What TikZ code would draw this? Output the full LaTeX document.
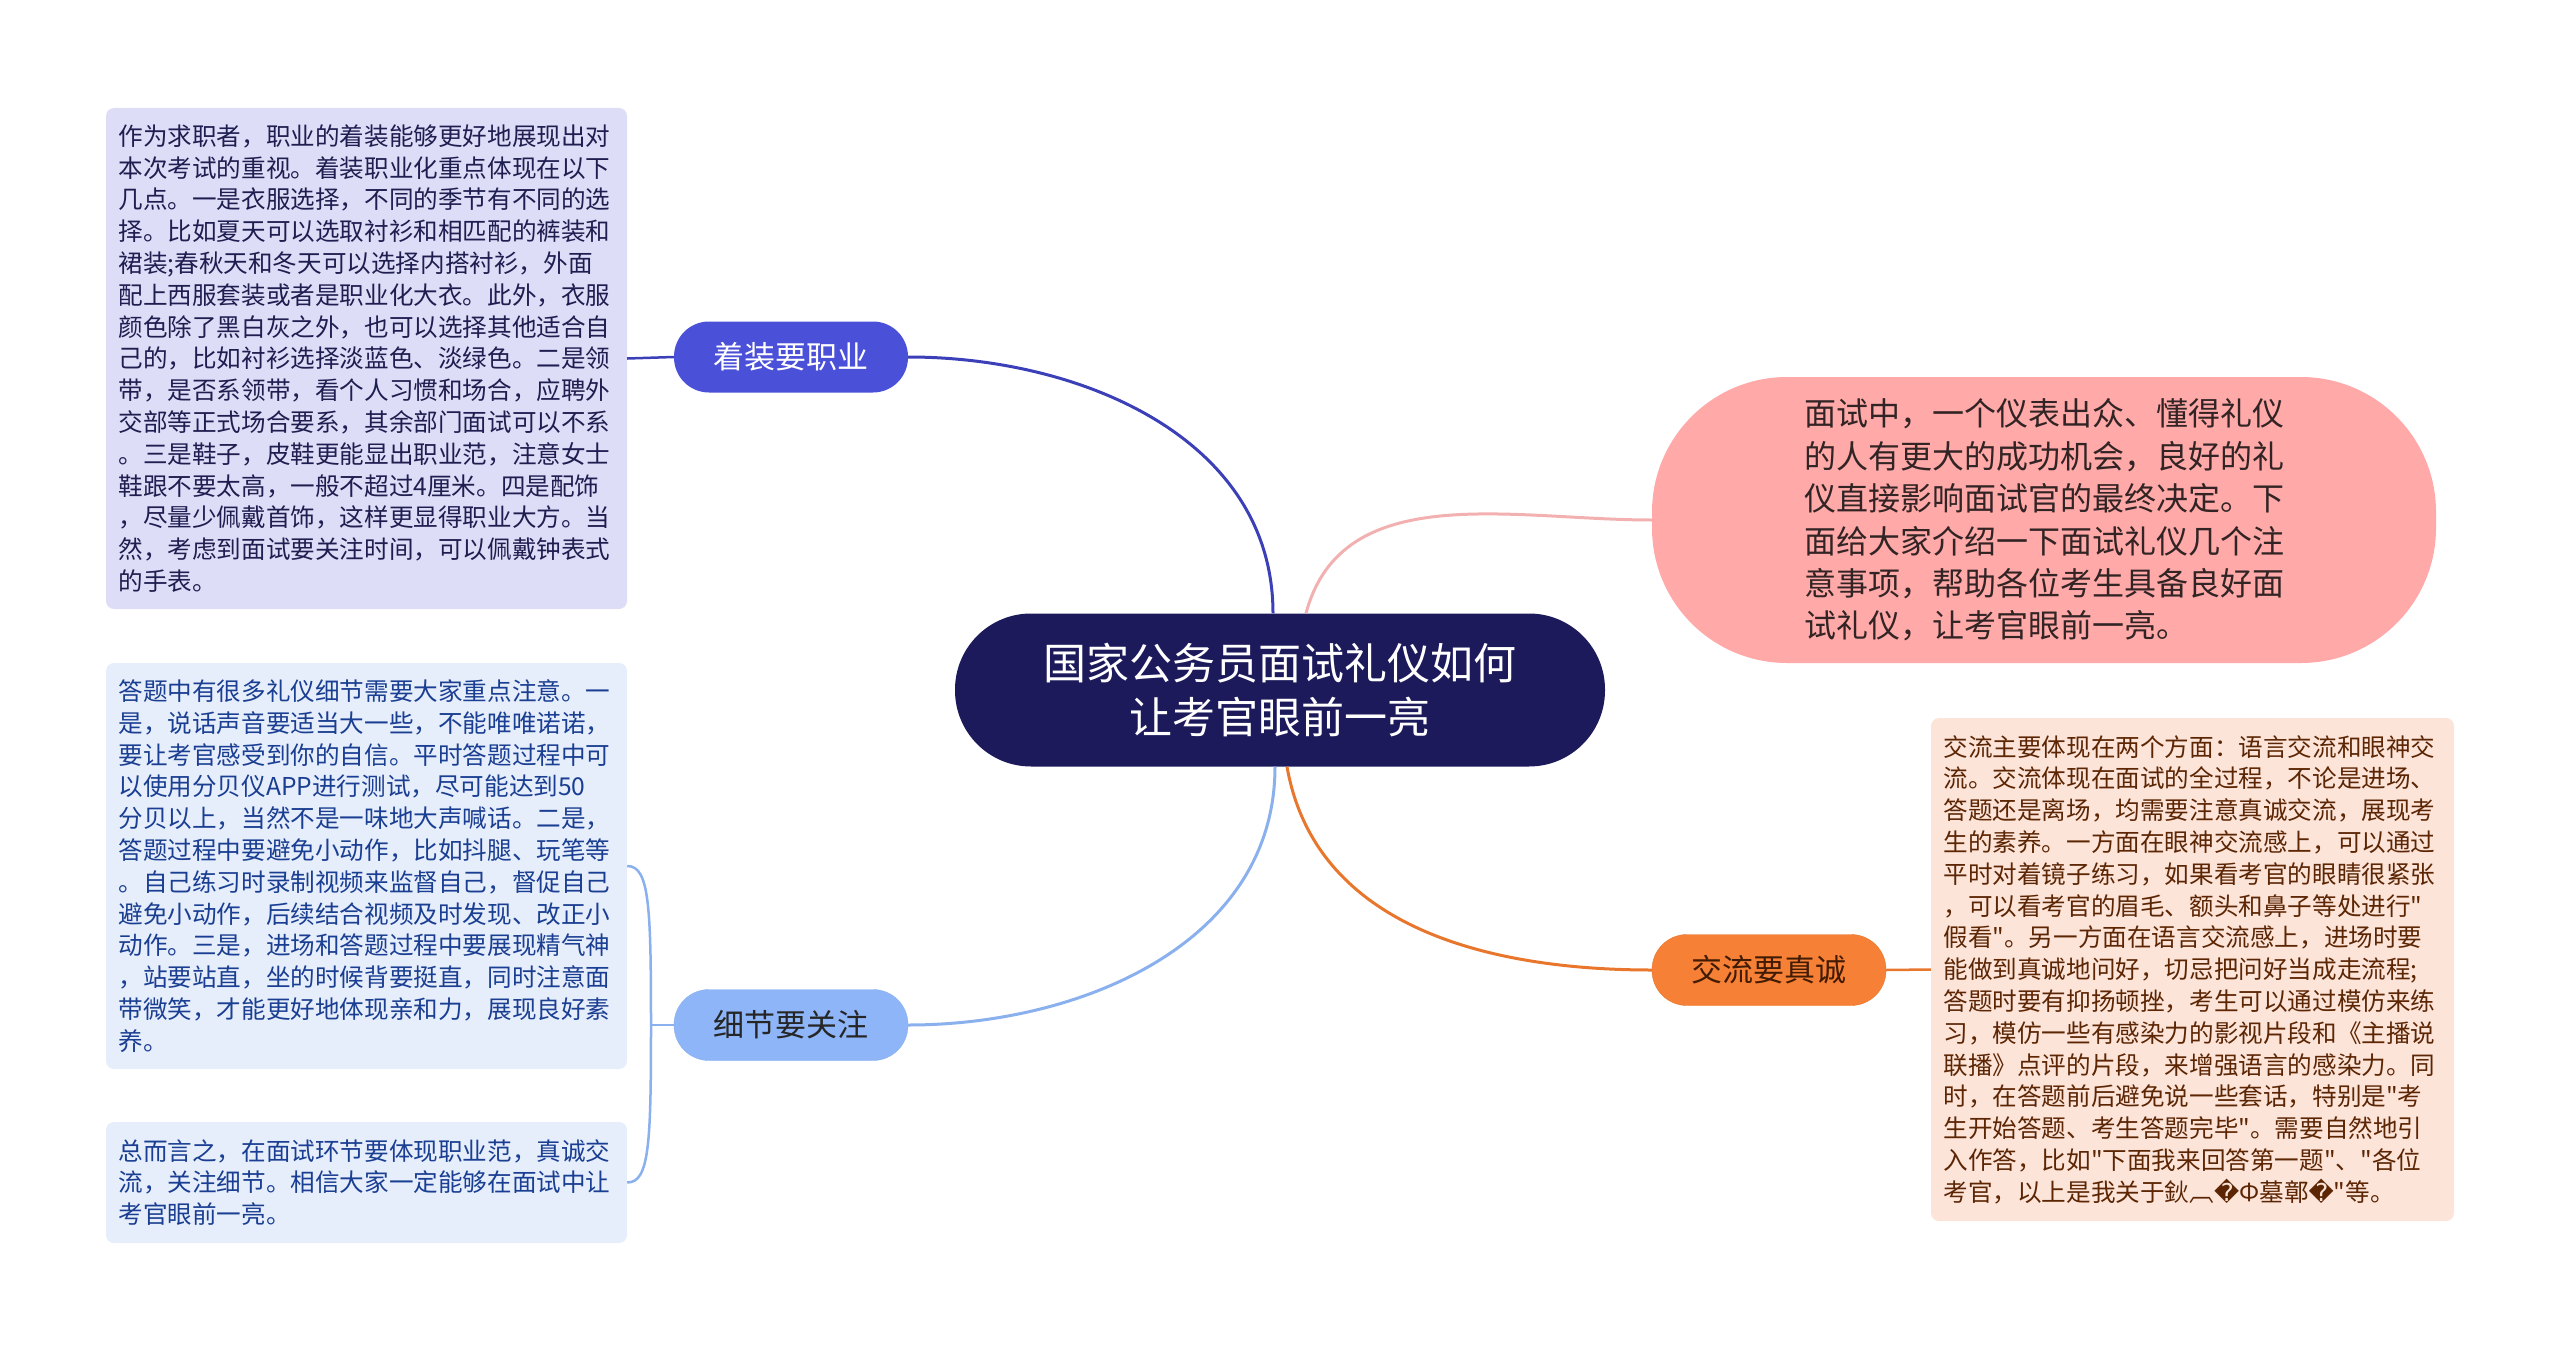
\documentclass[tikz,border=0pt]{standalone}
\usepackage{fontspec}
\setmainfont{Noto Sans CJK SC}[Ligatures=TeXOff]
\newfontfamily\symfont{DejaVu Sans}
\usepackage{tikz}
\usetikzlibrary{positioning}
\usepackage{xcolor}
\definecolor{rootnavy}{RGB}{28,26,90}
\definecolor{dressblue}{RGB}{74,80,216}
\definecolor{dresslink}{RGB}{60,64,184}
\definecolor{dressnote}{RGB}{222,221,247}
\definecolor{dresstext}{RGB}{30,30,80}
\definecolor{detailblue}{RGB}{141,181,247}
\definecolor{detaillink}{RGB}{138,176,238}
\definecolor{detailnote}{RGB}{230,238,252}
\definecolor{detailtext}{RGB}{26,62,145}
\definecolor{talkorange}{RGB}{246,128,54}
\definecolor{talklink}{RGB}{232,118,44}
\definecolor{talknote}{RGB}{253,228,217}
\definecolor{talktext}{RGB}{92,38,4}
\definecolor{introrose}{RGB}{255,169,169}
\definecolor{introlink}{RGB}{242,176,176}
\definecolor{introtext}{RGB}{50,36,36}

\begin{document}
\begin{tikzpicture}[
  x=1pt,y=-1pt,
  rootbox/.style={fill=rootnavy,text=white,rounded corners=76pt,minimum width=650pt,minimum height=153pt,align=center,font=\fontsize{43}{54}\selectfont},
  topicbox/.style={rounded corners=35pt,minimum width=234pt,minimum height=71pt,inner sep=0pt,font=\fontsize{31}{36}\selectfont},
  notebox/.style={rounded corners=8pt,align=left,text width=496pt,inner xsep=12.5pt,inner ysep=0pt,font=\fontsize{24.6}{31.8}\selectfont},
  introbox/.style={fill=introrose,text=introtext,rounded corners=135pt,minimum width=784pt,minimum height=286pt,align=left,font=\fontsize{32}{42.4}\selectfont},
  link/.style={line width=3pt},
  stub/.style={line width=2.5pt}
]
\useasboundingbox (0,0) rectangle (2560,1351);

% ROOT
\node[rootbox] (root) at (1280,690) {国家公务员面试礼仪如何\\让考官眼前一亮};

% TOPICS
\node[topicbox,fill=dressblue,text=white] (dress) at (791,357) {着装要职业};
\node[topicbox,fill=detailblue,draw=detaillink,text=black!85] (detail) at (791,1025) {细节要关注};
\node[topicbox,fill=talkorange,draw=talklink,text=talktext!70!black] (talk) at (1769,970) {交流要真诚};
\node[introbox] (intro) at (2044,520) {面试中，一个仪表出众、懂得礼仪\\的人有更大的成功机会，良好的礼\\仪直接影响面试官的最终决定。下\\面给大家介绍一下面试礼仪几个注\\意事项，帮助各位考生具备良好面\\试礼仪，让考官眼前一亮。};

% NOTES
\node[notebox,fill=dressnote,text=dresstext,minimum height=501pt] (dressnote) at (366.5,358.5) {作为求职者，职业的着装能够更好地展现出对\\本次考试的重视。着装职业化重点体现在以下\\几点。一是衣服选择，不同的季节有不同的选\\择。比如夏天可以选取衬衫和相匹配的裤装和\\裙装;春秋天和冬天可以选择内搭衬衫，外面\\配上西服套装或者是职业化大衣。此外，衣服\\颜色除了黑白灰之外，也可以选择其他适合自\\己的，比如衬衫选择淡蓝色、淡绿色。二是领\\带，是否系领带，看个人习惯和场合，应聘外\\交部等正式场合要系，其余部门面试可以不系\\。三是鞋子，皮鞋更能显出职业范，注意女士\\鞋跟不要太高，一般不超过4厘米。四是配饰\\，尽量少佩戴首饰，这样更显得职业大方。当\\然，考虑到面试要关注时间，可以佩戴钟表式\\的手表。};
\node[notebox,fill=detailnote,text=detailtext,minimum height=406pt] (detailnote) at (366.5,866) {答题中有很多礼仪细节需要大家重点注意。一\\是，说话声音要适当大一些，不能唯唯诺诺，\\要让考官感受到你的自信。平时答题过程中可\\以使用分贝仪APP进行测试，尽可能达到50\\分贝以上，当然不是一味地大声喊话。二是，\\答题过程中要避免小动作，比如抖腿、玩笔等\\。自己练习时录制视频来监督自己，督促自己\\避免小动作，后续结合视频及时发现、改正小\\动作。三是，进场和答题过程中要展现精气神\\，站要站直，坐的时候背要挺直，同时注意面\\带微笑，才能更好地体现亲和力，展现良好素\\养。};
\node[notebox,fill=detailnote,text=detailtext,minimum height=121pt] (summary) at (366.5,1182.5) {总而言之，在面试环节要体现职业范，真诚交\\流，关注细节。相信大家一定能够在面试中让\\考官眼前一亮。};
\node[notebox,fill=talknote,text=talktext,minimum height=503pt,text width=498pt] (talknote) at (2192.5,969.5) {交流主要体现在两个方面：语言交流和眼神交\\流。交流体现在面试的全过程，不论是进场、\\答题还是离场，均需要注意真诚交流，展现考\\生的素养。一方面在眼神交流感上，可以通过\\平时对着镜子练习，如果看考官的眼睛很紧张\\，可以看考官的眉毛、额头和鼻子等处进行"\\假看"。另一方面在语言交流感上，进场时要\\能做到真诚地问好，切忌把问好当成走流程;\\答题时要有抑扬顿挫，考生可以通过模仿来练\\习，模仿一些有感染力的影视片段和《主播说\\联播》点评的片段，来增强语言的感染力。同\\时，在答题前后避免说一些套话，特别是"考\\生开始答题、考生答题完毕"。需要自然地引\\入作答，比如"下面我来回答第一题"、"各位\\考官，以上是我关于鈥︹{\symfont �}Ф墓鄣{\symfont �}"等。};

% LINKS
\draw[link,dresslink] ([xshift=-7pt]root.north) to[out=90,in=0] (dress.east);
\draw[link,introlink] ([xshift=26pt]root.north) to[out=75,in=180] (intro.west);
\draw[link,detaillink] ([xshift=-5pt]root.south) to[out=-90,in=0] (detail.east);
\draw[link,talklink] ([xshift=7pt]root.south) to[out=-80,in=180] (talk.west);
\draw[stub,dresslink] (dressnote.east) -- (dress.west);
\draw[stub,talklink] (talk.east) -- (talknote.west);
\coordinate (fork) at (651,1025);
\draw[stub,detaillink] (detail.west) -- (fork);
\draw[stub,detaillink] (detailnote.east) .. controls +(22,0) and +(0,-120) .. (fork) .. controls +(0,120) and +(22,0) .. (summary.east);
\end{tikzpicture}
\end{document}
